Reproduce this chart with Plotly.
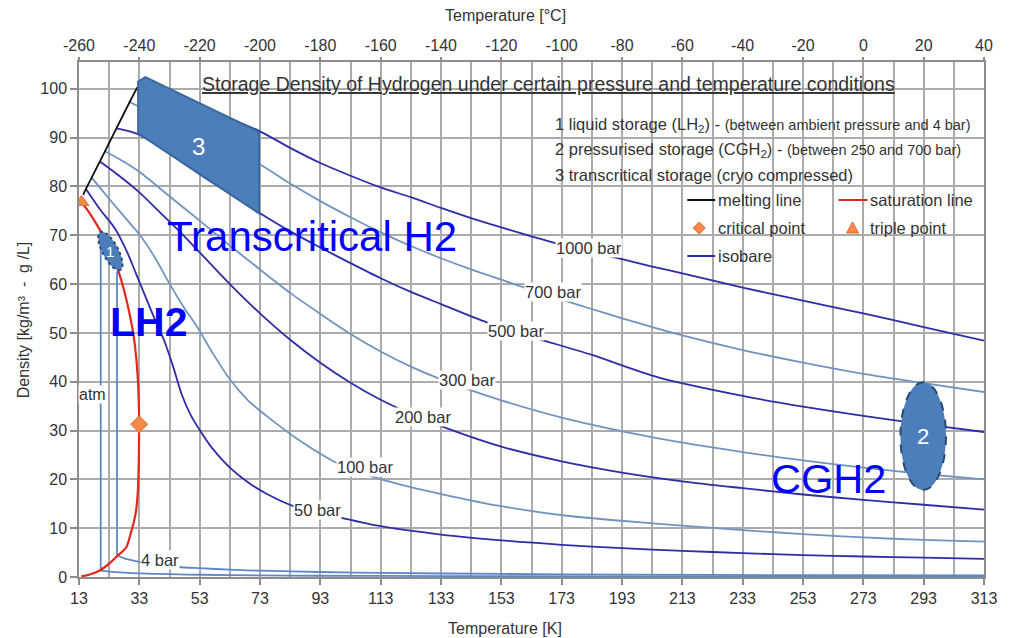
import math
import plotly.graph_objects as go

# ---------------- data ----------------
# temperatures in K, densities in kg/m3
melt_T = [14.4, 15.3, 17.2, 19.9, 21.6, 25.4, 29.8, 32.3]
melt_D = [78.3, 79.5, 81.8, 85.1, 87.2, 91.9, 97.3, 100.3]

sat_liq_T = [13.8, 16.0, 18.0, 20.2, 22.0, 24.0, 26.0, 28.0, 30.0, 31.2, 32.1, 32.6, 32.85, 32.95]
sat_liq_D = [76.8, 75.0, 73.1, 70.8, 68.8, 66.2, 62.8, 58.6, 53.2, 49.0, 44.0, 39.5, 35.0, 31.3]
sat_vap_T = [32.95, 32.85, 32.7, 32.4, 31.9, 31.2, 30.0, 28.7, 27.0, 25.5, 23.5, 21.5, 20.0, 18.0, 16.0, 13.8]
sat_vap_D = [31.3, 25.0, 20.5, 16.5, 13.5, 11.3, 8.6, 6.1, 5.0, 4.2, 3.0, 2.0, 1.4, 0.8, 0.4, 0.13]

critical_T = [32.95]
critical_D = [31.3]
triple_T = [13.8]
triple_D = [76.8]

# atmospheric isobar: liquid/vapour jump at boiling point, then gas branch
atm_jump_T = [20.2, 20.2]
atm_jump_D = [70.8, 1.3]
atm_T = [20.2, 25, 33, 43, 53, 73, 93, 113, 153, 213, 313]
atm_D = [1.3, 1.0, 0.75, 0.57, 0.46, 0.34, 0.26, 0.22, 0.16, 0.115, 0.078]

bar4_jump_T = [25.6, 25.6]
bar4_jump_D = [62.6, 4.45]
bar4_T = [25.6, 28, 33, 40, 46, 53, 63, 73, 93, 113, 153, 193, 253, 313]
bar4_D = [4.45, 3.8, 3.1, 2.5, 2.05, 1.8, 1.5, 1.3, 1.02, 0.84, 0.62, 0.49, 0.38, 0.31]

bar50_T = [15.3, 20, 25, 29, 32, 35, 38, 41, 44, 47, 50, 53, 57, 63, 69, 75, 85, 100, 113, 133, 153, 173, 193, 213, 233, 253, 273, 293, 313]
bar50_D = [79.5, 75.3, 71.3, 66.5, 62.0, 57.5, 53.0, 48.8, 43.5, 37.5, 33.2, 30.1, 26.5, 22.4, 19.4, 17.1, 14.3, 12.1, 10.4, 8.7, 7.5, 6.6, 5.9, 5.35, 4.9, 4.5, 4.2, 3.95, 3.7]

bar100_T = [17.2, 20, 25, 30, 33, 38, 43, 48, 52, 57, 63, 69, 76, 86, 98, 111, 123, 133, 152, 174, 203, 233, 253, 273, 293, 313]
bar100_D = [81.8, 79.7, 76.0, 72.4, 70.2, 65.6, 60.1, 55.0, 51.4, 46.2, 40.5, 36.2, 32.6, 28.0, 23.5, 20.4, 18.4, 17.0, 14.6, 12.6, 11.0, 9.6, 8.8, 8.1, 7.6, 7.25]

bar200_T = [19.9, 25, 33, 40, 46, 53, 63, 73, 83, 93, 103, 113, 123, 133, 153, 173, 193, 213, 233, 253, 273, 293, 313]
bar200_D = [85.1, 82.8, 78.8, 74.6, 71.0, 66.5, 60.0, 54.0, 48.6, 43.9, 39.8, 36.3, 33.4, 30.9, 26.7, 23.7, 21.4, 19.6, 18.2, 16.9, 15.8, 14.8, 13.8]

bar300_T = [21.6, 28, 33, 43, 53, 63, 73, 83, 93, 103, 113, 123, 133, 153, 174, 205, 233, 253, 273, 293, 313]
bar300_D = [87.2, 85.0, 83.0, 78.0, 73.0, 67.9, 63.0, 58.2, 53.9, 49.8, 46.2, 43.1, 40.5, 36.2, 32.5, 28.4, 25.6, 23.9, 22.4, 21.1, 20.0]

bar500_T = [25.4, 32.6, 43, 53, 63, 73, 83, 93, 103, 113, 123, 133, 148, 163, 183, 205, 233, 253, 273, 293, 313]
bar500_D = [91.9, 90.7, 86.7, 82.5, 78.5, 74.5, 70.8, 67.5, 64.3, 61.2, 58.4, 55.9, 52.2, 49.2, 45.5, 40.9, 37.1, 34.9, 33.0, 31.3, 29.7]

bar700_T = [29.8, 33, 43, 53, 63, 73, 83, 93, 103, 113, 123, 133, 143, 153, 163, 173, 183, 193, 203, 213, 233, 253, 273, 293, 313]
bar700_D = [97.3, 96.3, 93.2, 90.2, 87.3, 84.5, 80.6, 77.0, 73.7, 70.6, 67.8, 65.3, 63.0, 60.9, 58.8, 56.8, 54.9, 53.0, 51.2, 49.5, 46.5, 43.9, 41.6, 39.7, 37.9]

bar1000_T = [32.3, 43, 53, 63, 73, 83, 93, 103, 113, 123, 133, 143, 153, 163, 173, 183, 193, 203, 213, 233, 253, 273, 293, 313]
bar1000_D = [100.3, 98.5, 96.3, 93.9, 91.3, 87.9, 84.8, 82.2, 79.8, 77.8, 75.6, 73.5, 71.6, 69.8, 68.0, 66.6, 65.1, 63.6, 62.2, 59.3, 56.6, 54.0, 51.2, 48.4]

# region outlines (storage regions)
region3_T = [32.6, 35.0, 72.7, 72.7, 32.6]
region3_D = [101.5, 102.4, 91.2, 74.5, 90.9]
region2_T = [285.3, 300.4]
region2_D = [17.8, 39.9]

k_ticks = list(range(13, 314, 20))
c_ticks = list(range(-260, 41, 20))
d_ticks = list(range(0, 101, 10))

# ---------------- layout geometry / style ----------------
W, H = 1009, 638
PX_L, PX_R, PX_T, PX_B = 79, 988, 62, 577
K_MIN, K_MAX = 13, 313
D_MIN, D_MAX = 0, 105.5


def kx(px):
    return K_MIN + (px - PX_L) * (K_MAX - K_MIN) / (PX_R - PX_L)


def dy(py):
    return D_MIN + (PX_B - py) * (D_MAX - D_MIN) / (PX_B - PX_T)


FONT = "Liberation Sans, Arial, sans-serif"
TXT = "#333333"
DARK = "#2d2da8"
LIGHT = "#7193c0"
VERT = "#5f86c8"
RED = "#e3261e"
ORANGE = "#f58a4b"
ORANGE_EDGE = "#e0692a"
FILL = "#4d7ebc"
GRID = "#ababab"
AXIS = "#8c8c8c"

fig = go.Figure()


def line_trace(t, d, color, width=1.8, smooth=True):
    ln = dict(color=color, width=width)
    if smooth:
        ln.update(shape="spline", smoothing=0.8)
    fig.add_trace(go.Scatter(x=t, y=d, mode="lines", line=ln, hoverinfo="skip", showlegend=False))


line_trace(atm_jump_T, atm_jump_D, VERT, 1.8, smooth=False)
line_trace(atm_T, atm_D, VERT, 1.8)
line_trace(bar4_jump_T, bar4_jump_D, VERT, 1.8, smooth=False)
line_trace(bar4_T, bar4_D, VERT, 1.8)
line_trace(bar50_T, bar50_D, DARK)
line_trace(bar100_T, bar100_D, LIGHT)
line_trace(bar200_T, bar200_D, DARK)
line_trace(bar300_T, bar300_D, LIGHT)
line_trace(bar500_T, bar500_D, DARK)
line_trace(bar700_T, bar700_D, LIGHT)
line_trace(bar1000_T, bar1000_D, DARK)
line_trace(melt_T, melt_D, "#111111", 1.8)
line_trace(sat_liq_T, sat_liq_D, RED, 2.2)
line_trace(sat_vap_T, sat_vap_D, RED, 2.2)

fig.add_trace(go.Scatter(x=critical_T, y=critical_D, mode="markers",
                         marker=dict(symbol="diamond", size=13, color=ORANGE,
                                     line=dict(color=ORANGE_EDGE, width=1)),
                         hoverinfo="skip", showlegend=False))
fig.add_trace(go.Scatter(x=triple_T, y=triple_D, mode="markers",
                         marker=dict(symbol="triangle-up", size=13, color=ORANGE,
                                     line=dict(color=ORANGE_EDGE, width=1)),
                         hoverinfo="skip", showlegend=False))
# invisible trace to activate the top (Celsius) axis
fig.add_trace(go.Scatter(x=[c_ticks[0], c_ticks[-1]], y=[None, None], xaxis="x2", yaxis="y",
                         mode="lines", hoverinfo="skip", showlegend=False))

shapes = []
# white boxes behind the title and the legend text (hide the grid)
for (x0, x1, y0, y1) in [(203, 903, 70, 97), (555, 986, 101, 188), (680, 986, 188, 272)]:
    shapes.append(dict(type="rect", xref="x", yref="y", x0=kx(x0), x1=kx(x1), y0=dy(y1), y1=dy(y0),
                       fillcolor="white", line=dict(width=0), layer="below"))

# region 3 (transcritical)
path3 = "M " + " L ".join(f"{t},{d}" for t, d in zip(region3_T, region3_D)) + " Z"
shapes.append(dict(type="path", xref="x", yref="y", path=path3, fillcolor=FILL,
                   line=dict(color="#3a689f", width=2), layer="above"))
# region 2 (pressurised)
shapes.append(dict(type="circle", xref="x", yref="y", x0=region2_T[0], x1=region2_T[1],
                   y0=region2_D[0], y1=region2_D[1], fillcolor=FILL,
                   line=dict(color="#2a4a75", width=2, dash="dash"), layer="above"))
# region 1 (liquid) - tilted ellipse
cx, cy, a, b, phi = 110.5, 251.0, 21.5, 7.8, math.radians(62)
pts = []
for i in range(61):
    t = 2 * math.pi * i / 60
    dxp = a * math.cos(t) * math.cos(phi) - b * math.sin(t) * math.sin(phi)
    dyp = a * math.cos(t) * math.sin(phi) + b * math.sin(t) * math.cos(phi)
    pts.append((kx(cx + dxp), dy(cy + dyp)))
path1 = "M " + " L ".join(f"{x:.3f},{y:.3f}" for x, y in pts) + " Z"
shapes.append(dict(type="path", xref="x", yref="y", path=path1, fillcolor=FILL,
                   line=dict(color="#2a4a75", width=2, dash="dot"), layer="above"))

# legend keys
for (x0, x1, y, col) in [(690, 718, 200, "#111111"), (842, 871, 200, RED), (690, 718, 256, DARK)]:
    shapes.append(dict(type="line", xref="x", yref="y", x0=kx(x0), x1=kx(x1), y0=dy(y), y1=dy(y),
                       line=dict(color=col, width=2), layer="above"))
shapes.append(dict(type="path", xref="x", yref="y", xsizemode="pixel", ysizemode="pixel",
                   xanchor=kx(702), yanchor=dy(228), path="M0,6 L6,0 L0,-6 L-6,0 Z",
                   fillcolor=ORANGE, line=dict(color=ORANGE_EDGE, width=1), layer="above"))
shapes.append(dict(type="path", xref="x", yref="y", xsizemode="pixel", ysizemode="pixel",
                   xanchor=kx(856), yanchor=dy(228), path="M-6,-5 L6,-5 L0,6 Z",
                   fillcolor=ORANGE, line=dict(color=ORANGE_EDGE, width=1), layer="above"))

ann = []


def text(px, py, s, size=16.5, color=TXT, anchor="center", bg=None, **kw):
    d = dict(x=kx(px), y=dy(py), xref="x", yref="y", text=s, showarrow=False,
             xanchor=anchor, yanchor="middle", font=dict(family=FONT, size=size, color=color))
    if bg:
        d.update(bgcolor=bg, borderpad=0)
    d.update(kw)
    ann.append(d)


text(551, 84, "<u>Storage Density of Hydrogen under certain pressure and temperature conditions</u>", 19.5)
text(555, 125, "1 liquid storage (LH<sub>2</sub>) - <span style='font-size:14.5px'>(between ambient pressure and 4 bar)</span>", 16.5, anchor="left")
text(555, 150, "2 pressurised storage (CGH<sub>2</sub>) - <span style='font-size:14.5px'>(between 250 and 700 bar)</span>", 16.5, anchor="left")
text(555, 175, "3 transcritical storage (cryo compressed)", 16.5, anchor="left")
text(719, 200, "melting line", 16.5, anchor="left")
text(871, 200, "saturation line", 16.5, anchor="left")
text(719, 228, "critical point", 16.5, anchor="left")
text(871, 228, "triple point", 16.5, anchor="left")
text(719, 256, "isobare", 16.5, anchor="left")

for (px, py, s) in [(591, 248, "1000 bar"), (555, 292, "700 bar"), (518, 331, "500 bar"),
                    (469, 380, "300 bar"), (425, 417, "200 bar"), (366, 467, "100 bar"),
                    (319, 510, "50 bar"), (160, 560, "4 bar")]:
    text(px, py, s, 16.5, bg="white")
text(93, 394, "atm", 16, bg="white")

text(165, 236, "Transcritical H2", 42, color="#0000ff", anchor="left")
text(149, 322, "<b>LH2</b>", 41, color="#0000ff")
text(832, 478, "CGH2", 41.5, color="#0000ff")

text(199, 146, "3", 24, color="white")
text(927, 436, "2", 22, color="white")
text(110, 251, "1", 15, color="white")

# axis titles
for (px, py, s, rot) in [(507, 628, "Temperature [K]", 0), (507, 16, "Temperature [°C]", 0),
                         (23, 320, "Density [kg/m³  -  g /L]", -90)]:
    ann.append(dict(x=(px - PX_L) / (PX_R - PX_L), y=(PX_B - py) / (PX_B - PX_T), xref="paper", yref="paper",
                    text=s, showarrow=False, xanchor="center", yanchor="middle", textangle=rot,
                    font=dict(family=FONT, size=16, color=TXT)))

tickfont = dict(family=FONT, size=16, color=TXT)
fig.update_layout(
    width=W, height=H, autosize=False,
    margin=dict(l=PX_L, r=W - PX_R, t=PX_T, b=H - PX_B, pad=0),
    paper_bgcolor="white", plot_bgcolor="white",
    showlegend=False,
    xaxis=dict(range=[K_MIN, K_MAX], tickmode="array", tickvals=k_ticks, ticktext=[str(v) for v in k_ticks],
               ticks="outside", ticklen=6, tickcolor=AXIS, tickwidth=1.5,
               showgrid=True, gridcolor=GRID, gridwidth=1.5,
               minor=dict(tickvals=[v + 10 for v in k_ticks[:-1]], showgrid=True, gridcolor=GRID, gridwidth=1.5),
               showline=True, linecolor=AXIS, linewidth=1.5, mirror=True, zeroline=False,
               tickfont=tickfont),
    xaxis2=dict(range=[-260, 40], overlaying="x", side="top", anchor="y", tickmode="array",
                tickvals=c_ticks, ticktext=[str(v) for v in c_ticks],
                ticks="outside", ticklen=4, tickcolor=AXIS, tickwidth=1.5,
                showgrid=False, showline=False, zeroline=False, tickfont=tickfont),
    yaxis=dict(range=[D_MIN, D_MAX], tickmode="array", tickvals=d_ticks, ticktext=[str(v) for v in d_ticks],
               ticks="outside", ticklen=7, tickcolor=AXIS, tickwidth=1.5,
               showgrid=True, gridcolor=GRID, gridwidth=1.5,
               showline=True, linecolor=AXIS, linewidth=1.5, mirror=True, zeroline=False,
               tickfont=tickfont),
    shapes=shapes,
    annotations=ann,
)

fig.write_html("out.html")
